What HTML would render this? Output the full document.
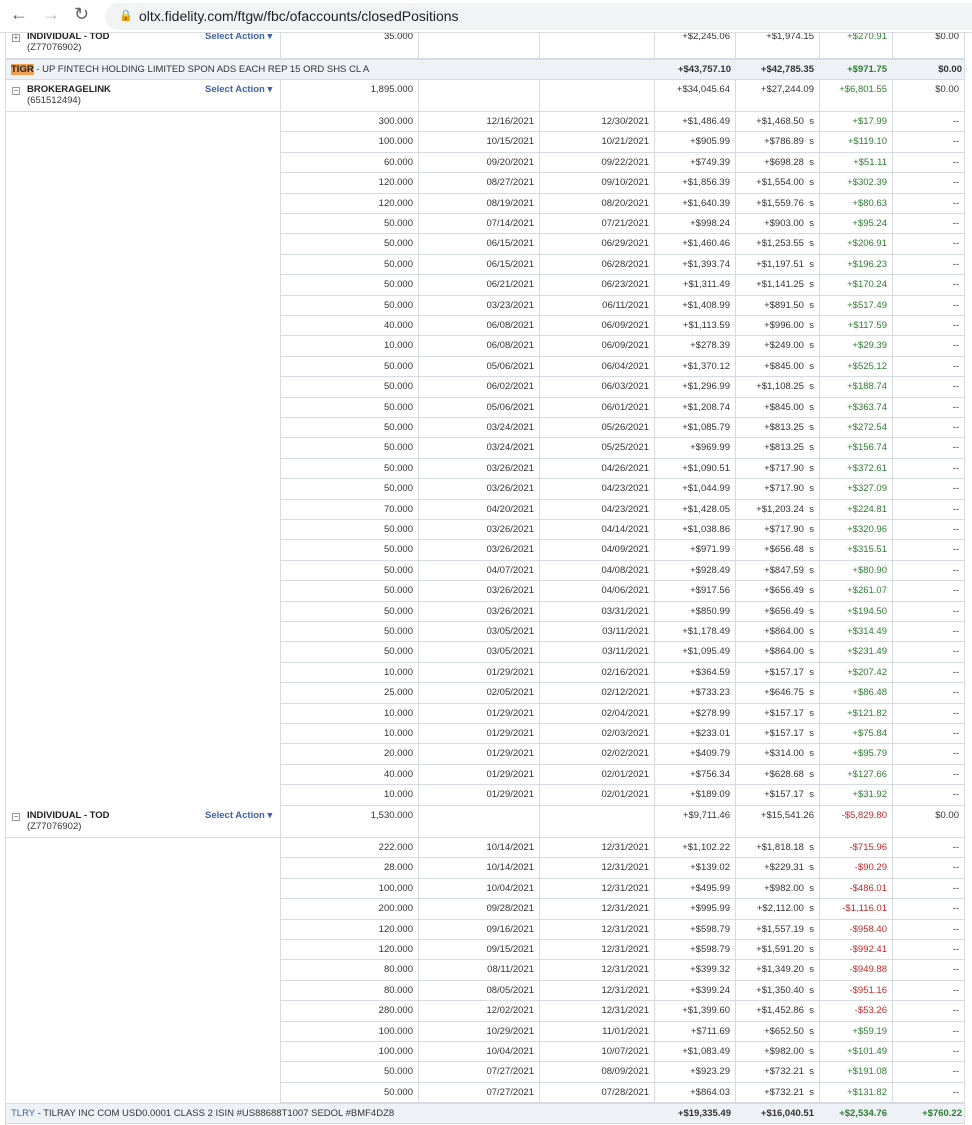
<!DOCTYPE html>
<html><head><meta charset="utf-8">
<style>
*{margin:0;padding:0;box-sizing:border-box}
body{width:972px;height:1125px;overflow:hidden;background:#fff;font-family:"Liberation Sans",Arial,sans-serif;font-size:9.5px;color:#333;position:relative}
.bar{position:absolute;left:0;top:0;width:972px;height:33px;background:#fff;border-bottom:1px solid #dadce0;z-index:5}
.url{position:absolute;left:105px;top:3px;width:880px;height:27px;border-radius:14px;background:#f1f3f4;font-size:14px;color:#202124;padding-left:34px;line-height:27px}
.nav{position:absolute;top:4px;font-size:18px;color:#5f6368}
.row{position:absolute;left:5px;width:960px}
.c{position:absolute;top:0;height:100%;border-left:1px solid #d6dbe3;border-bottom:1px solid #d6dbe3;text-align:right;padding:4px 5px 0 0;white-space:nowrap}
.g{color:#2e7d32}.r{color:#c62828}
.grp{position:absolute;left:5px;width:960px;background:#eef1f5;border:1px solid #d6dbe3;font-size:9.5px}
.acct{position:absolute;font-weight:bold;color:#222}
.sa{position:absolute;color:#3d62b0;font-weight:bold}
.box{display:inline-block;width:8px;height:8px;border:1px solid #999;margin-right:7px;vertical-align:-1px;font-size:8px;line-height:6px;text-align:center;color:#555;font-weight:normal}
.vl{position:absolute;left:5px;top:33px;width:1px;height:1092px;background:#d6dbe3}
</style></head><body>
<div class="bar">
<span class="nav" style="left:10px">←</span>
<span class="nav" style="left:42px;color:#bbb">→</span>
<span class="nav" style="left:74px">↻</span>
<div class="url"><span style="position:absolute;left:14px;font-size:11px;color:#555">🔒</span>oltx.fidelity.com/ftgw/fbc/ofaccounts/closedPositions</div>
</div>
<div class="vl"></div>
<div id="tbl"></div>
<script>
const colL=[0,275,413,534,649,730,814,887,960];
const bQty=["300.000","100.000","60.000","120.000","120.000","50.000","50.000","50.000","50.000","50.000","40.000","10.000","50.000","50.000","50.000","50.000","50.000","50.000","50.000","70.000","50.000","50.000","50.000","50.000","50.000","50.000","50.000","10.000","25.000","10.000","10.000","20.000","40.000","10.000"];
const bAcq=["12/16/2021","10/15/2021","09/20/2021","08/27/2021","08/19/2021","07/14/2021","06/15/2021","06/15/2021","06/21/2021","03/23/2021","06/08/2021","06/08/2021","05/06/2021","06/02/2021","05/06/2021","03/24/2021","03/24/2021","03/26/2021","03/26/2021","04/20/2021","03/26/2021","03/26/2021","04/07/2021","03/26/2021","03/26/2021","03/05/2021","03/05/2021","01/29/2021","02/05/2021","01/29/2021","01/29/2021","01/29/2021","01/29/2021","01/29/2021"];
const bSold=["12/30/2021","10/21/2021","09/22/2021","09/10/2021","08/20/2021","07/21/2021","06/29/2021","06/28/2021","06/23/2021","06/11/2021","06/09/2021","06/09/2021","06/04/2021","06/03/2021","06/01/2021","05/26/2021","05/25/2021","04/26/2021","04/23/2021","04/23/2021","04/14/2021","04/09/2021","04/08/2021","04/06/2021","03/31/2021","03/11/2021","03/11/2021","02/16/2021","02/12/2021","02/04/2021","02/03/2021","02/02/2021","02/01/2021","02/01/2021"];
const bProc=[1486.49,905.99,749.39,1856.39,1640.39,998.24,1460.46,1393.74,1311.49,1408.99,1113.59,278.39,1370.12,1296.99,1208.74,1085.79,969.99,1090.51,1044.99,1428.05,1038.86,971.99,928.49,917.56,850.99,1178.49,1095.49,364.59,733.23,278.99,233.01,409.79,756.34,189.09];
const bCost=[1468.50,786.89,698.28,1554.00,1559.76,903.00,1253.55,1197.51,1141.25,891.50,996.00,249.00,845.00,1108.25,845.00,813.25,813.25,717.90,717.90,1203.24,717.90,656.48,847.59,656.49,656.49,864.00,864.00,157.17,646.75,157.17,157.17,314.00,628.68,157.17];
const bGain=[17.99,119.10,51.11,302.39,80.63,95.24,206.91,196.23,170.24,517.49,117.59,29.39,525.12,188.74,363.74,272.54,156.74,372.61,327.09,224.81,320.96,315.51,80.90,261.07,194.50,314.49,231.49,207.42,86.48,121.82,75.84,95.79,127.66,31.92];
const iQty=["222.000","28.000","100.000","200.000","120.000","120.000","80.000","80.000","280.000","100.000","100.000","50.000","50.000"];
const iAcq=["10/14/2021","10/14/2021","10/04/2021","09/28/2021","09/16/2021","09/15/2021","08/11/2021","08/05/2021","12/02/2021","10/29/2021","10/04/2021","07/27/2021","07/27/2021"];
const iSold=["12/31/2021","12/31/2021","12/31/2021","12/31/2021","12/31/2021","12/31/2021","12/31/2021","12/31/2021","12/31/2021","11/01/2021","10/07/2021","08/09/2021","07/28/2021"];
const iProc=[1102.22,139.02,495.99,995.99,598.79,598.79,399.32,399.24,1399.60,711.69,1083.49,923.29,864.03];
const iCost=[1818.18,229.31,982.00,2112.00,1557.19,1591.20,1349.20,1350.40,1452.86,652.50,982.00,732.21,732.21];
const iGain=[-715.96,-90.29,-486.01,-1116.01,-958.40,-992.41,-949.88,-951.16,-53.26,59.19,101.49,191.08,131.82];
const tbl=document.getElementById('tbl');
function money(v){const s=Math.abs(v).toLocaleString('en-US',{minimumFractionDigits:2,maximumFractionDigits:2});return (v<0?'-$':'+$')+s;}
function row(top,h,cells,start){
  const r=document.createElement('div');r.className='row';r.style.top=top+'px';r.style.height=h+'px';
  
  
  for(let i=start;i<8;i++){
    const c=document.createElement('div');c.className='c';
    c.style.left=colL[i]+'px';c.style.width=(colL[i+1]-colL[i])+'px';
    if(i===7)c.style.borderRight='1px solid #d6dbe3';
    const v=cells[i];
    if(v&&typeof v==='object'){c.innerHTML=v.h;if(v.cls)c.classList.add(v.cls);}else c.textContent=v||'';
    
    
    r.appendChild(c);
  }
  tbl.appendChild(r);return r;
}
function detail(top,q,a,s,p,co,g){
  row(top,20.4,['',q,a,s,money(p),{h:money(co)+'&nbsp; s'},{h:money(g),cls:g<0?'r':'g'},'--'],1);
}
function acct(top,name,num,qty,p,co,g,sign){
  const r=row(top,32,['',qty,'','',p,co,{h:g,cls:sign},'$0.00'],0);
  r.children[0].style.textAlign='left';
  r.children[0].innerHTML='<span class="acct" style="left:6px;top:4px"><span class="box">'+sign2(name)+'</span>'+name.replace(/^[+-]/,'')+'</span><span style="position:absolute;left:21px;top:15px">'+num+'</span><span class="sa" style="left:199px;top:4px">Select Action ▾</span>';
}
function sign2(n){return n[0]==='+'?'+':'−';}
function grp(top,html,vals,name){
  const d=document.createElement('div');d.className='grp';d.style.top=top+'px';d.style.height='21px';
  
  
  d.innerHTML='<span style="position:absolute;left:5px;top:4px">'+html+'</span>'+vals.map((v,i)=>'<span style="position:absolute;top:4px;font-weight:bold;right:'+[233,150,77,2][i]+'px;'+(i==2?'color:#2e7d32':'')+'">'+v+'</span>').join('');
  tbl.appendChild(d);
}
acct(27,'+INDIVIDUAL - TOD','(Z77076902)','35.000','+$2,245.06','+$1,974.15','+$270.91','g');
grp(59,'<b style="background:#f0a050;color:#222">TIGR</b> - UP FINTECH HOLDING LIMITED SPON ADS EACH REP 15 ORD SHS CL A',['+$43,757.10','+$42,785.35','+$971.75','$0.00'],'tigr-summary-row');
acct(80,'-BROKERAGELINK','(651512494)','1,895.000','+$34,045.64','+$27,244.09','+$6,801.55','g');
for(let i=0;i<bQty.length;i++)detail(112+i*20.4,bQty[i],bAcq[i],bSold[i],bProc[i],bCost[i],bGain[i]);
acct(806,'-INDIVIDUAL - TOD','(Z77076902)','1,530.000','+$9,711.46','+$15,541.26','-$5,829.80','r');
for(let i=0;i<iQty.length;i++)detail(838+i*20.4,iQty[i],iAcq[i],iSold[i],iProc[i],iCost[i],iGain[i]);
grp(1103,'<span style="color:#3d62b0">TLRY</span> - TILRAY INC COM USD0.0001 CLASS 2 ISIN #US88688T1007 SEDOL #BMF4DZ8',['+$19,335.49','+$16,040.51','+$2,534.76','<span style="color:#2e7d32">+$760.22</span>'],'tlry-summary-row');
</script>
</body></html>
